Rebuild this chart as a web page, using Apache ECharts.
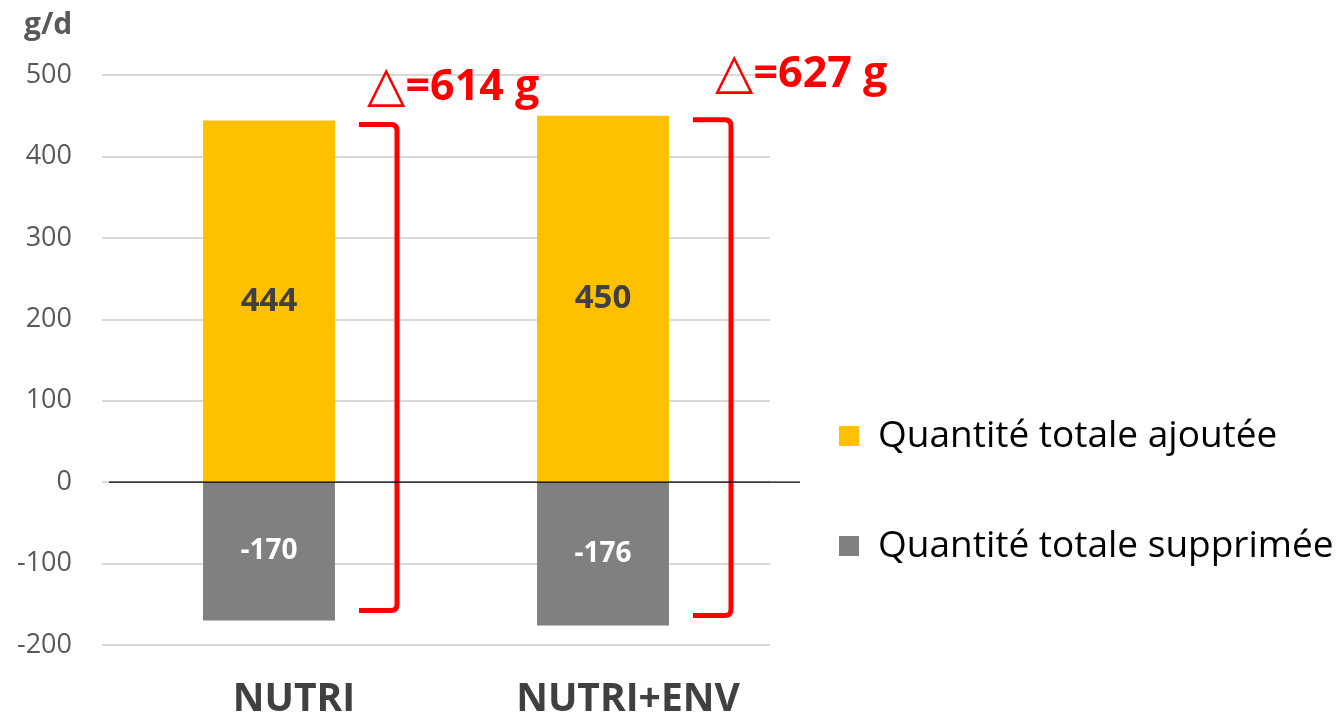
<!DOCTYPE html>
<html>
<head>
<meta charset="utf-8">
<script src="https://cdn.jsdelivr.net/npm/echarts@6/dist/echarts.min.js"></script>
<style>html,body{margin:0;padding:0;background:#fff;}#c{width:1340px;height:718px;}</style>
</head>
<body>
<div id="c"></div>
<script>
const categories = ['NUTRI', 'NUTRI+ENV'];
const addedValues = [444, 450];
const removedValues = [-170, -176];
const deltaLabels = ['614', '627'];
const seriesNames = ['Quantité totale ajoutée', 'Quantité totale supprimée'];
const yTicks = { min: -200, max: 500, interval: 100 };

const FONT = '"Open Sans", "Noto Sans", sans-serif';
const labelShift = [{ dx: -30, dy: -37 }, { dx: -16, dy: -45 }];

const chart = echarts.init(document.getElementById('c'));
chart.setOption({
  animation: false,
  backgroundColor: '#fff',
  title: {
    text: 'g/d', left: 19, top: 5,
    textStyle: { fontFamily: FONT, fontSize: 30, fontWeight: 'bold', color: '#595959' }
  },
  grid: { left: 102, right: 570, top: 75, bottom: 73, containLabel: false, outerBoundsMode: 'none' },
  legend: {
    orient: 'vertical', left: 834, top: 411, itemGap: 70,
    itemWidth: 20, itemHeight: 20, icon: 'rect',
    textStyle: { fontFamily: FONT, fontSize: 37, color: '#000', lineHeight: 40, padding: [0, 0, 0, 14] },
    data: seriesNames
  },
  xAxis: {
    type: 'category', data: categories,
    axisLine: { show: false }, axisTick: { show: false },
    axisLabel: { fontFamily: FONT, fontSize: 39, fontWeight: 'bold', color: '#404040', margin: 35, padding: [0, 0, 0, 50] }
  },
  yAxis: {
    type: 'value', min: yTicks.min, max: yTicks.max, interval: yTicks.interval,
    axisLine: { show: false }, axisTick: { show: false },
    axisLabel: { fontFamily: FONT, fontSize: 27, color: '#595959', margin: 30 },
    splitLine: { lineStyle: { color: '#d9d9d9', width: 2 } }
  },
  series: [
    {
      name: seriesNames[0], type: 'bar', stack: 'tot', data: addedValues, barWidth: '39.5%',
      itemStyle: { color: '#FFC000' },
      label: { show: true, position: 'inside', fontFamily: FONT, fontSize: 33, fontWeight: 'bold', color: '#404040' }
    },
    {
      name: seriesNames[1], type: 'bar', stack: 'tot', data: removedValues, barWidth: '39.5%',
      itemStyle: { color: '#808080' },
      label: { show: true, position: 'inside', fontFamily: FONT, fontSize: 28, fontWeight: 'bold', color: '#ffffff' }
    },
    {
      type: 'custom', name: 'bracket', silent: true, z: 5,
      data: categories.map((c, i) => [i, addedValues[i], removedValues[i]]),
      encode: { x: 0, y: [1, 2] },
      renderItem: function (params, api) {
        const i = params.dataIndex;
        const cx = api.coord([api.value(0), 0])[0];
        const yTop = api.coord([api.value(0), api.value(1)])[1] + 4;
        const yBot = api.coord([api.value(0), api.value(2)])[1] - 10;
        const xv = cx + 128, xs = cx + 90, r = 6;
        const d = 'M' + xs + ' ' + yTop + ' L' + (xv - r) + ' ' + yTop +
          ' Q' + xv + ' ' + yTop + ' ' + xv + ' ' + (yTop + r) +
          ' L' + xv + ' ' + (yBot - r) +
          ' Q' + xv + ' ' + yBot + ' ' + (xv - r) + ' ' + yBot +
          ' L' + xs + ' ' + yBot;
        const sh = labelShift[i] || { dx: -23, dy: -41 };
        return {
          type: 'group',
          children: [
            { type: 'path', shape: { pathData: d }, style: { stroke: '#FF0000', lineWidth: 5, fill: null } },
            {
              type: 'text',
              style: {
                x: xv + sh.dx, y: yTop + sh.dy,
                text: '{t|△}=' + deltaLabels[i] + ' g',
                align: 'left', verticalAlign: 'middle',
                fill: '#FF0000', fontFamily: FONT, fontSize: 43, fontWeight: 'bold',
                rich: { t: { fontFamily: '"DejaVu Sans", sans-serif', fontSize: 50, fontWeight: 'normal', fill: '#FF0000' } }
              }
            }
          ]
        };
      }
    }
  ]
});
const y0 = chart.convertToPixel({ yAxisIndex: 0 }, 0);
chart.setOption({
  graphic: [{ type: 'line', shape: { x1: 109, y1: y0, x2: 800, y2: y0 }, style: { stroke: '#000', lineWidth: 1.2 }, z: 100 }]
});
</script>
</body>
</html>
